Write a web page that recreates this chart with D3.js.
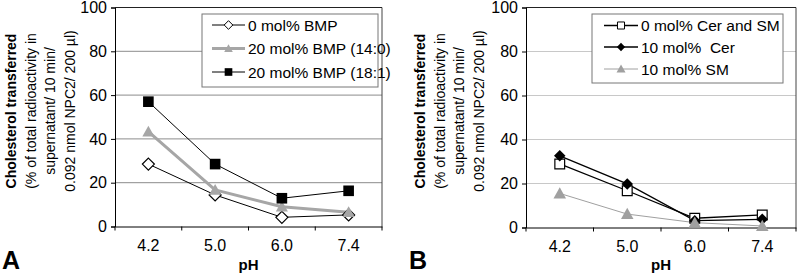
<!DOCTYPE html>
<html>
<head>
<meta charset="utf-8">
<script src="https://cdn.jsdelivr.net/npm/d3@7"></script>
<style>
  body { margin: 0; background: #fff; }
  svg text { font-family: "Liberation Sans", Arial, sans-serif; white-space: pre; }
</style>
</head>
<body>
<div id="chart"></div>
<script>
// categories and values
var phLabels = ["4.2", "5.0", "6.0", "7.4"];
var yTicks = [0, 20, 40, 60, 80, 100];

var bmp0 = [28.5, 14.4, 4.2, 5.3];
var bmp14 = [43.3, 16.7, 9.0, 6.5];
var bmp18 = [57.0, 28.5, 12.9, 16.3];

var cerSm0 = [28.9, 16.7, 4.2, 5.7];
var cer10 = [32.6, 19.8, 3.1, 3.7];
var sm10 = [15.5, 6.1, 2.2, 0.7];

var seriesNamesA = ["0 mol% BMP", "20 mol% BMP (14:0)", "20 mol% BMP (18:1)"];
var seriesNamesB = ["0 mol% Cer and SM", "10 mol%  Cer", "10 mol% SM"];

var titleLines = ["Cholesterol transferred", "(% of total radioactivity in",
                  "supernatant/ 10 min/", "0.092 nmol NPC2/ 200 \u00b5l)"];

function init() {
    var svg = d3.select("#chart")
                .append("svg")
                .attr("width", 797)
                .attr("height", 273);

    drawPanel(svg, {
        left: 115, right: 382, top: 7.5, bottom: 226.5,
        gridColor: "#8c8c8c",
        letter: "A", letterX: 2, titleX: 11,
        legend: { x: 202, y: 14, w: 176, h: 73, rows: [26, 49.5, 73], lx0: 212, lx1: 245 },
        series: [
            { name: seriesNamesA[0], values: bmp0, color: "#000", width: 1, marker: "diamond", fill: "#fff", size: 12 },
            { name: seriesNamesA[1], values: bmp14, color: "#a6a6a6", width: 3, marker: "triangle", fill: "#a6a6a6", size: 12 },
            { name: seriesNamesA[2], values: bmp18, color: "#000", width: 1, marker: "square", fill: "#000", size: 12.5 }
        ]
    });

    drawPanel(svg, {
        left: 526, right: 796, top: 7.5, bottom: 227.5,
        gridColor: "#c8c8c8",
        letter: "B", letterX: 409, titleX: 420,
        legend: { x: 592, y: 14, w: 191, h: 69, rows: [26.5, 48, 70], lx0: 604, lx1: 638 },
        series: [
            { name: seriesNamesB[0], values: cerSm0, color: "#000", width: 1.3, marker: "square", fill: "#fff", size: 11.5 },
            { name: seriesNamesB[1], values: cer10, color: "#000", width: 1.3, marker: "diamond", fill: "#000", size: 11.5 },
            { name: seriesNamesB[2], values: sm10, color: "#a0a0a0", width: 1, marker: "triangle", fill: "#a0a0a0", size: 12.5 }
        ]
    });
}

function markerPath(type, size) {
    var s = size / 2;
    if (type == "diamond") {
        return "M0," + (-s) + "L" + s + ",0L0," + s + "L" + (-s) + ",0Z";
    } else if (type == "triangle") {
        return "M0," + (-s) + "L" + s + "," + (s * 0.8) + "L" + (-s) + "," + (s * 0.8) + "Z";
    }
    var q = s * 0.85;
    return "M" + (-q) + "," + (-q) + "H" + q + "V" + q + "H" + (-q) + "Z";
}

function drawPanel(svg, cfg) {
    var x = d3.scaleBand()
              .domain(phLabels)
              .range([cfg.left, cfg.right]);

    var y = d3.scaleLinear()
              .domain([0, 100])
              .range([cfg.bottom, cfg.top]);

    var g = svg.append("g");

    // gridlines
    g.selectAll("line.grid")
        .data(yTicks.slice(1))
        .enter()
        .append("line")
        .attr("x1", cfg.left)
        .attr("x2", cfg.right)
        .attr("y1", function(d) { return y(d); })
        .attr("y2", function(d) { return y(d); })
        .style("stroke", cfg.gridColor)
        .style("stroke-width", 1);

    // plot border
    g.append("line")
        .attr("x1", cfg.right).attr("x2", cfg.right)
        .attr("y1", cfg.top).attr("y2", cfg.bottom)
        .style("stroke", "#444");
    g.append("line")
        .attr("x1", cfg.left).attr("x2", cfg.right)
        .attr("y1", cfg.top).attr("y2", cfg.top)
        .style("stroke", "#222");

    // y axis
    var yAxis = d3.axisLeft(y)
                  .tickValues(yTicks)
                  .tickSize(4)
                  .tickPadding(4);
    var ya = g.append("g")
        .attr("transform", "translate(" + cfg.left + ",0)")
        .call(yAxis);
    ya.selectAll("text").style("font-size", "16px").style("fill", "#000");
    ya.selectAll("line, path").style("stroke", "#000");

    // x axis, ticks between the categories
    var xAxis = d3.axisBottom(x).tickSize(0).tickPadding(13);
    var xa = g.append("g")
        .attr("transform", "translate(0," + cfg.bottom + ")")
        .call(xAxis);
    xa.selectAll("text").style("font-size", "16px").style("fill", "#000");
    xa.select(".domain").style("stroke", "#000");

    var bounds = phLabels.map(function(d) { return x(d); }).concat([cfg.right]);
    g.selectAll("line.xtick")
        .data(bounds)
        .enter()
        .append("line")
        .attr("x1", function(d) { return d; })
        .attr("x2", function(d) { return d; })
        .attr("y1", cfg.bottom)
        .attr("y2", cfg.bottom + 4)
        .style("stroke", "#000");

    g.append("text")
        .attr("x", (cfg.left + cfg.right) / 2)
        .attr("y", 270)
        .attr("text-anchor", "middle")
        .style("font-size", "15px")
        .style("font-weight", "bold")
        .text("pH");

    g.append("text")
        .attr("x", cfg.letterX)
        .attr("y", 269)
        .style("font-size", "25px")
        .style("font-weight", "bold")
        .text(cfg.letter);

    // y axis title, 4 lines
    var cy = 111;
    g.selectAll("text.ytitle")
        .data(titleLines)
        .enter()
        .append("text")
        .attr("transform", function(d, i) {
            return "translate(" + (cfg.titleX + i * 19.5 + 5) + "," + cy + ") rotate(-90)";
        })
        .attr("text-anchor", "middle")
        .style("font-size", "14px")
        .style("font-weight", function(d, i) { return i == 0 ? "bold" : "normal"; })
        .text(function(d) { return d; });

    var cx = function(i) { return x(phLabels[i]) + x.bandwidth() / 2; };

    // lines and markers
    cfg.series.forEach(function(s) {
        var line = d3.line()
                     .x(function(d, i) { return cx(i); })
                     .y(function(d) { return y(d); });
        g.append("path")
            .datum(s.values)
            .attr("d", line)
            .style("fill", "none")
            .style("stroke", s.color)
            .style("stroke-width", s.width);
    });
    cfg.series.forEach(function(s) {
        g.selectAll(null)
            .data(s.values)
            .enter()
            .append("path")
            .attr("transform", function(d, i) { return "translate(" + cx(i) + "," + y(d) + ")"; })
            .attr("d", markerPath(s.marker, s.size))
            .style("fill", s.fill)
            .style("stroke", s.fill == "#fff" ? "#000" : "none")
            .style("stroke-width", 1.2);
    });

    // legend
    var L = cfg.legend;
    g.append("rect")
        .attr("x", L.x).attr("y", L.y)
        .attr("width", L.w).attr("height", L.h)
        .style("fill", "#fff")
        .style("stroke", "#777");
    cfg.series.forEach(function(s, i) {
        var ry = L.rows[i] - 1;
        g.append("line")
            .attr("x1", L.lx0).attr("x2", L.lx1)
            .attr("y1", ry).attr("y2", ry)
            .style("stroke", s.color)
            .style("stroke-width", s.width);
        g.append("path")
            .attr("transform", "translate(" + ((L.lx0 + L.lx1) / 2) + "," + ry + ")")
            .attr("d", markerPath(s.marker, s.size * 0.72))
            .style("fill", s.fill)
            .style("stroke", s.fill == "#fff" ? "#000" : "none")
            .style("stroke-width", 1);
        g.append("text")
            .attr("x", L.lx1 + 3)
            .attr("y", ry + 5.5)
            .style("font-size", "15.5px")
            .text(s.name);
    });
}

window.onload = init;
</script>
</body>
</html>
